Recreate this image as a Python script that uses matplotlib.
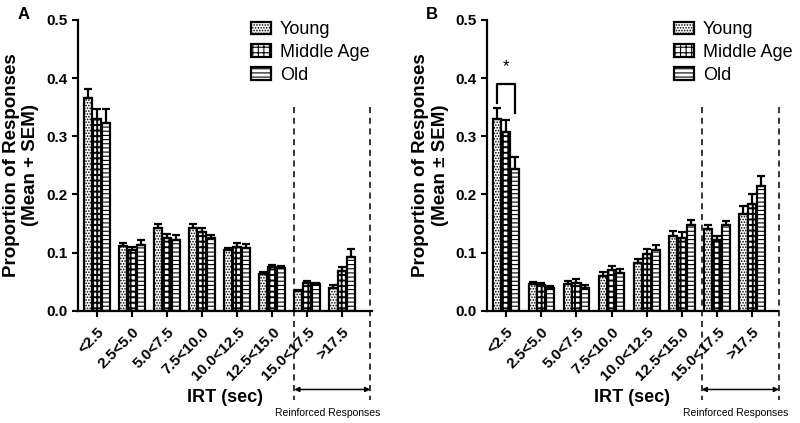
import numpy as np
import matplotlib
matplotlib.use('Agg')
from matplotlib import pyplot as plt

plt.rcParams['font.family'] = ['Liberation Sans', 'DejaVu Sans']
plt.rcParams['hatch.linewidth'] = 0.8

categories = ['<2.5', '2.5<5.0', '5.0<7.5', '7.5<10.0', '10.0<12.5',
              '12.5<15.0', '15.0<17.5', '>17.5']
groups = ['Young', 'Middle Age', 'Old']

# panel A
a_mean = {
    'Young':      [0.365, 0.112, 0.143, 0.143, 0.104, 0.063, 0.034, 0.040],
    'Middle Age': [0.329, 0.105, 0.125, 0.135, 0.110, 0.075, 0.048, 0.068],
    'Old':        [0.322, 0.113, 0.122, 0.125, 0.108, 0.073, 0.046, 0.092],
}
a_sem = {
    'Young':      [0.016, 0.005, 0.007, 0.007, 0.004, 0.003, 0.002, 0.004],
    'Middle Age': [0.018, 0.005, 0.007, 0.008, 0.006, 0.004, 0.004, 0.008],
    'Old':        [0.025, 0.008, 0.008, 0.006, 0.007, 0.004, 0.002, 0.014],
}
# panel B
b_mean = {
    'Young':      [0.330, 0.047, 0.047, 0.060, 0.082, 0.128, 0.140, 0.167],
    'Middle Age': [0.308, 0.045, 0.048, 0.070, 0.097, 0.125, 0.122, 0.183],
    'Old':        [0.243, 0.040, 0.040, 0.065, 0.105, 0.148, 0.147, 0.215],
}
b_sem = {
    'Young':      [0.018, 0.002, 0.005, 0.007, 0.007, 0.010, 0.008, 0.013],
    'Middle Age': [0.020, 0.003, 0.006, 0.007, 0.009, 0.011, 0.007, 0.017],
    'Old':        [0.022, 0.002, 0.004, 0.007, 0.008, 0.009, 0.008, 0.017],
}

hatches = {'Young': '......', 'Middle Age': '+++', 'Old': '----'}
hatch_lw = {'Young': 0.8, 'Middle Age': 1.4, 'Old': 0.8}

fig = plt.figure(figsize=(8, 4.23), dpi=100)
axA = fig.add_axes([0.0975, 0.265, 0.368, 0.688])
axB = fig.add_axes([0.609, 0.265, 0.363, 0.688])

x = np.arange(len(categories))
w = 0.25


def draw(ax, means, sems, ylab, xr, dash, leg_x):
    for i, g in enumerate(groups):
        pos = x + (i - 1) * w
        plt.rcParams['hatch.linewidth'] = hatch_lw[g]
        ax.bar(pos, means[g], w * 0.92, color='white', edgecolor='black',
               linewidth=1.6, hatch=hatches[g], label=g, zorder=2)
        ax.errorbar(pos, means[g], yerr=[np.zeros(len(x)), sems[g]],
                    fmt='none', ecolor='black', elinewidth=1.6, capsize=2.8,
                    capthick=1.6, zorder=3)
    ax.set_xlim(-0.54, xr)
    ax.set_ylim(0, 0.5)
    ax.set_yticks(np.arange(0, 0.51, 0.1))
    ax.set_yticklabels(['%.1f' % v for v in np.arange(0, 0.51, 0.1)],
                       fontsize=11, fontweight='bold')
    ax.set_xticks(x)
    ax.set_xticklabels(categories, rotation=45, ha='right',
                       rotation_mode='anchor', fontsize=11, fontweight='bold')
    ax.tick_params(axis='both', direction='out', width=1.5, length=4)
    ax.tick_params(axis='x', pad=6)
    for s in ['top', 'right']:
        ax.spines[s].set_visible(False)
    for s in ['left', 'bottom']:
        ax.spines[s].set_linewidth(1.6)
    ax.set_ylabel(ylab, fontsize=13.5, fontweight='bold', labelpad=5)
    ax.set_xlabel('IRT (sec)', fontsize=13, fontweight='bold', labelpad=4)
    trans = ax.get_xaxis_transform()
    for d in dash:
        ax.plot([d, d], [0.70, -0.305], transform=trans, color='black',
                linestyle=(0, (4, 3)), linewidth=1.1, clip_on=False, zorder=5)
    ax.annotate('', xy=(dash[0], -0.27), xytext=(dash[1], -0.27),
                xycoords=trans, textcoords=trans,
                arrowprops=dict(arrowstyle='<|-|>', color='black', lw=1.1,
                                mutation_scale=7, shrinkA=0, shrinkB=0))
    ax.text((dash[0] + dash[1]) / 2 - 0.12, -0.35, 'Reinforced Responses',
            transform=trans, ha='center', va='center', fontsize=7.5)
    ax.legend(loc='upper left', bbox_to_anchor=(leg_x, 0.995), frameon=False,
              fontsize=13, handlelength=1.1, handleheight=0.72,
              handletextpad=0.5, labelspacing=0.32, borderaxespad=0,
              borderpad=0)


draw(axA, a_mean, a_sem, 'Proportion of Responses\n(Mean + SEM)', 7.86,
     [5.63, 7.8], 0.588)
draw(axB, b_mean, b_sem, 'Proportion of Responses\n(Mean \u00b1 SEM)', 7.72,
     [5.56, 7.76], 0.643)

# significance bracket panel B
bx0, bx1 = x[0] - w, x[0] + w
axB.plot([bx0, bx0, bx1, bx1], [0.357, 0.39, 0.39, 0.34], color='black',
         linewidth=1.6, zorder=4)
axB.text(x[0], 0.42, '*', ha='center', va='center', fontsize=12)

fig.text(0.022, 0.965, 'A', fontsize=12, fontweight='bold', ha='left', va='center')
fig.text(0.532, 0.965, 'B', fontsize=12, fontweight='bold', ha='left', va='center')

fig.savefig('out.png', dpi=100)
